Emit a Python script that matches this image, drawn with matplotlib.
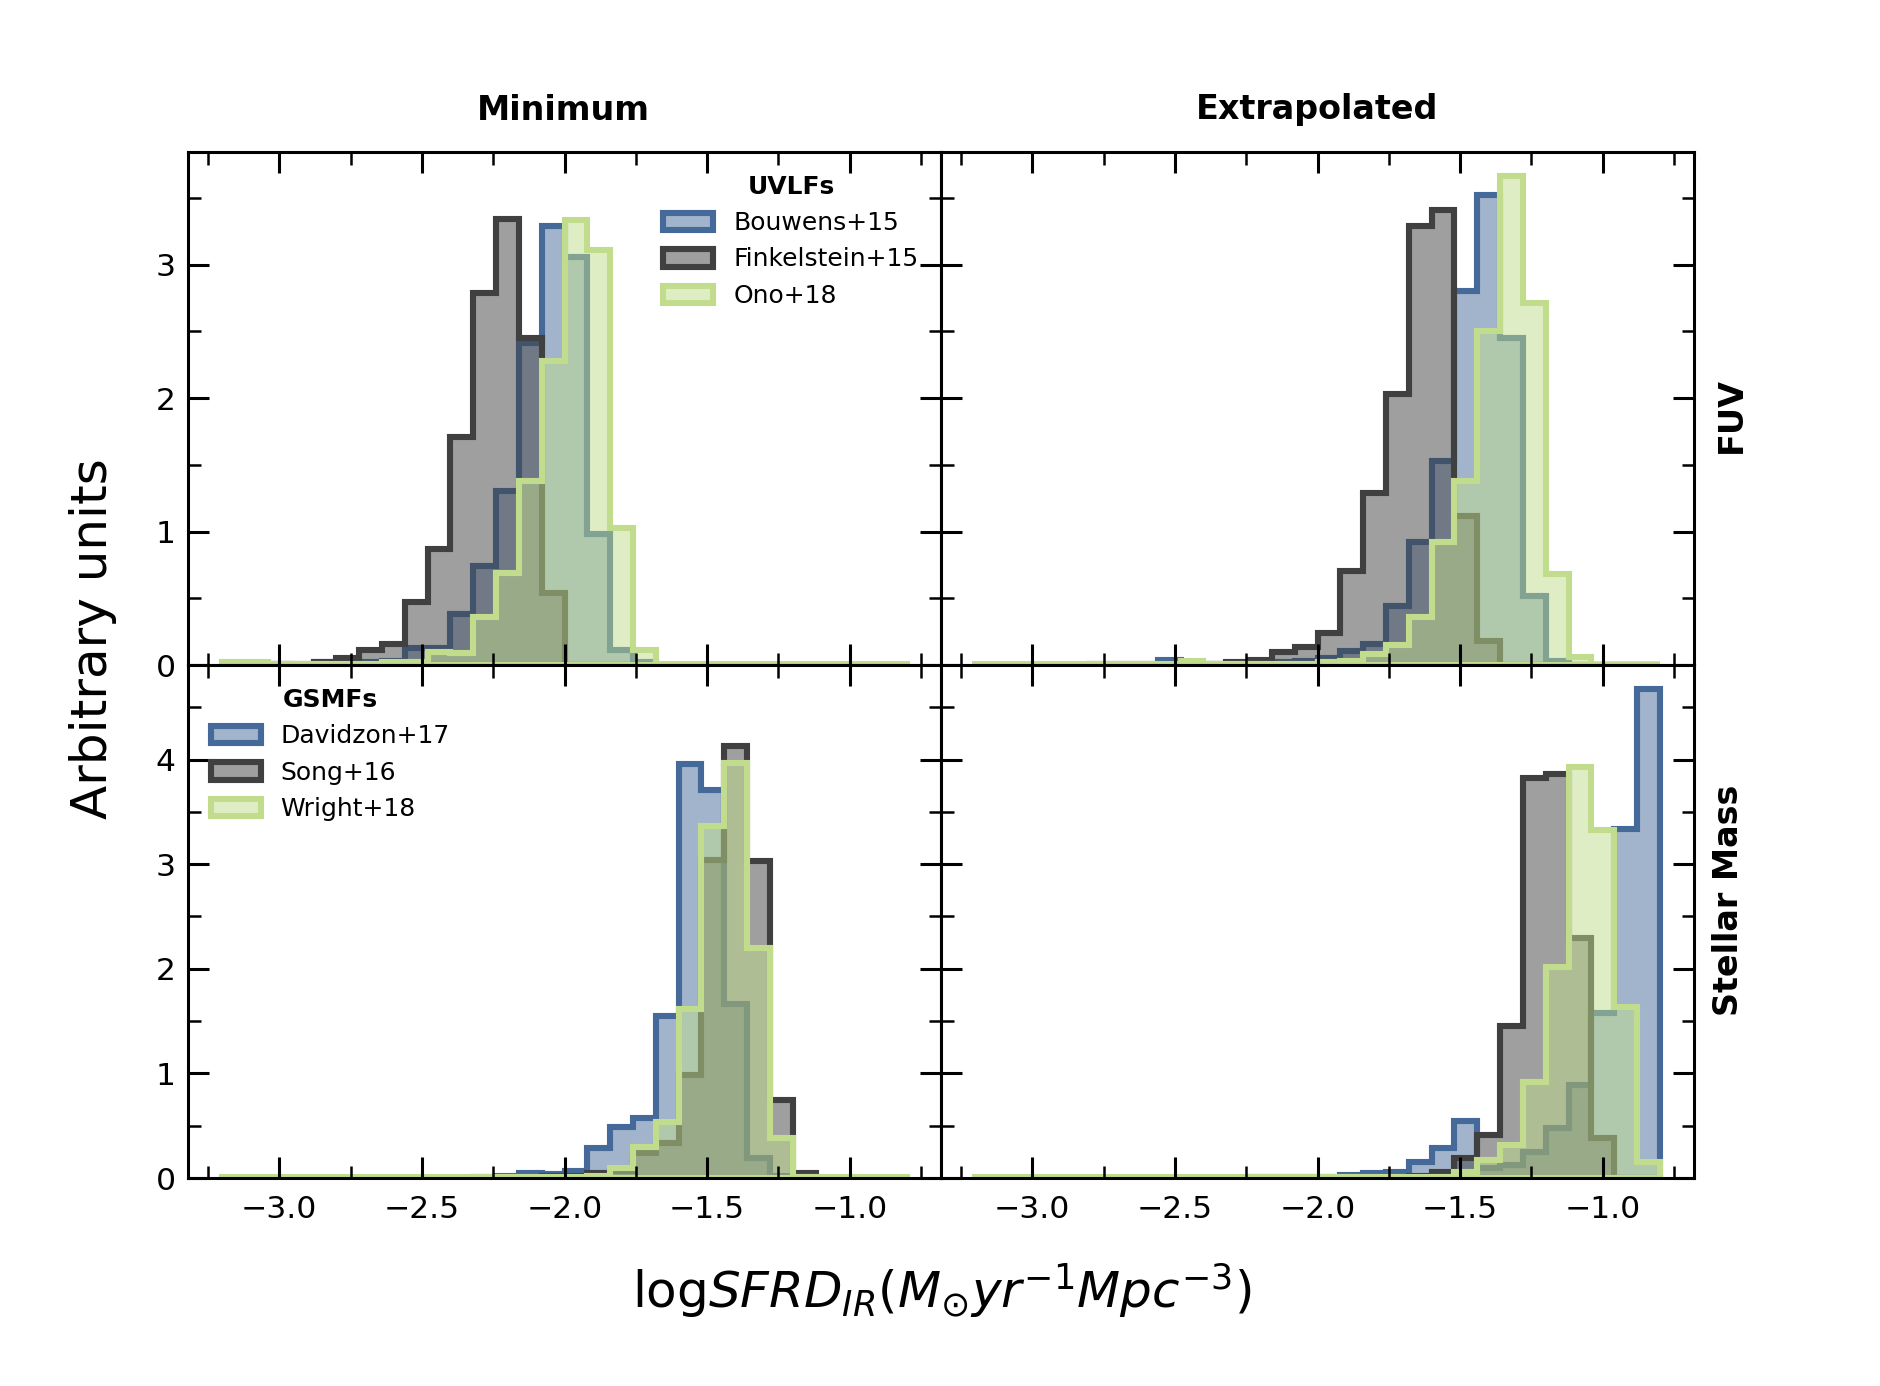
import numpy as np
import matplotlib
matplotlib.use('Agg')
import matplotlib.pyplot as plt
from matplotlib.ticker import MultipleLocator
from matplotlib.colors import to_rgba

# ---------------- data ----------------
bin_edges = np.linspace(-3.2, -0.8, 31)
bin_centers = 0.5 * (bin_edges[:-1] + bin_edges[1:])

col_titles = ['Minimum', 'Extrapolated']
row_labels = ['FUV', 'Stellar Mass']
uv_labels = ['Bouwens+15', 'Finkelstein+15', 'Ono+18']
sm_labels = ['Davidzon+17', 'Song+16', 'Wright+18']
uv_title = 'UVLFs'
sm_title = 'GSMFs'

# FUV / Minimum
bouwens_min = [0, 0, 0.01, 0, 0.02, 0, 0.02, 0.03, 0.13, 0.13,
               0.38, 0.74, 1.30, 2.41, 3.29, 3.06, 0.98, 0.11, 0.02, 0,
               0, 0, 0, 0, 0, 0, 0, 0, 0, 0]
finkelstein_min = [0, 0, 0.01, 0.01, 0.02, 0.05, 0.11, 0.155, 0.475, 0.87,
                   1.71, 2.79, 3.34, 2.45, 0.54, 0, 0, 0, 0, 0,
                   0, 0, 0, 0, 0, 0, 0, 0, 0, 0]
ono_min = [0.02, 0.02, 0.01, 0.01, 0.01, 0.01, 0.01, 0.02, 0.02, 0.10,
           0.09, 0.36, 0.69, 1.38, 2.28, 3.33, 3.11, 1.03, 0.11, 0.01,
           0.01, 0.01, 0.01, 0.01, 0.01, 0.01, 0.01, 0.01, 0.01, 0.01]

# FUV / Extrapolated
bouwens_ext = [0, 0, 0, 0, 0, 0, 0, 0, 0.04, 0.01,
               0.01, 0.01, 0.01, 0.02, 0.03, 0.05, 0.107, 0.157, 0.444, 0.918,
               1.53, 2.80, 3.52, 2.45, 0.52, 0.03, 0, 0, 0, 0]
finkelstein_ext = [0, 0, 0, 0, 0, 0.01, 0.01, 0.01, 0.01, 0.01,
                   0.01, 0.02, 0.04, 0.095, 0.132, 0.239, 0.705, 1.29, 2.03, 3.286,
                   3.41, 1.117, 0.18, 0, 0, 0, 0, 0, 0, 0]
ono_ext = [0.01, 0.01, 0.01, 0.01, 0.01, 0.01, 0.01, 0.01, 0.01, 0.03,
           0.01, 0.01, 0.01, 0.01, 0.01, 0.02, 0.03, 0.08, 0.15, 0.357,
           0.918, 1.378, 2.50, 3.66, 2.71, 0.68, 0.057, 0, 0, 0]

# Stellar Mass / Minimum
davidzon_min = [0, 0, 0, 0, 0, 0, 0, 0, 0, 0,
                0, 0.01, 0.02, 0.05, 0.04, 0.07, 0.29, 0.49, 0.57, 1.55,
                3.96, 3.71, 1.66, 0.19, 0.02, 0, 0, 0, 0, 0]
song_min = [0, 0, 0, 0, 0, 0, 0, 0, 0, 0,
            0, 0, 0, 0.01, 0.02, 0.02, 0.05, 0.07, 0.236, 0.33,
            0.986, 3.04, 4.13, 3.03, 0.746, 0.05, 0, 0, 0, 0]
wright_min = [0.01, 0.01, 0.01, 0.01, 0.01, 0.01, 0.01, 0.01, 0.01, 0.01,
              0.01, 0.01, 0.01, 0.01, 0.01, 0.01, 0.02, 0.10, 0.30, 0.54,
              1.62, 3.36, 3.97, 2.20, 0.38, 0.01, 0.01, 0.01, 0.01, 0.01]

# Stellar Mass / Extrapolated
davidzon_ext = [0, 0, 0, 0, 0, 0, 0, 0, 0, 0,
                0, 0, 0.01, 0.01, 0.01, 0.01, 0.03, 0.05, 0.06, 0.156,
                0.284, 0.545, 0.10, 0.124, 0.25, 0.475, 0.89, 1.58, 3.34, 4.67]
song_ext = [0, 0, 0, 0, 0, 0, 0, 0, 0, 0,
            0, 0, 0, 0, 0, 0, 0, 0, 0, 0.02,
            0.06, 0.188, 0.41, 1.455, 3.82, 3.86, 2.29, 0.38, 0, 0]
wright_ext = [0.01, 0.01, 0.01, 0.01, 0.01, 0.01, 0.01, 0.01, 0.01, 0.01,
              0.01, 0.01, 0.01, 0.01, 0.01, 0.01, 0.01, 0.01, 0.01, 0.01,
              0.01, 0.06, 0.172, 0.316, 0.916, 2.016, 3.93, 3.33, 1.63, 0.156]

panels = [
    [[bouwens_min, finkelstein_min, ono_min], [bouwens_ext, finkelstein_ext, ono_ext]],
    [[davidzon_min, song_min, wright_min], [davidzon_ext, song_ext, wright_ext]],
]
series_labels = [uv_labels, sm_labels]
edge_colors = ['#456a99', '#404040', '#c0dc8c']

# ---------------- figure ----------------
W, H = 1880, 1386
fig, axes = plt.subplots(2, 2, figsize=(W / 200, H / 200), dpi=200,
                         sharex=True, sharey='row')
fig.subplots_adjust(left=188 / W, right=1694 / W, bottom=1 - 1178 / H,
                    top=1 - 152 / H, hspace=0, wspace=0)

for r in range(2):
    for c in range(2):
        ax = axes[r, c]
        for vals, col, lab in zip(panels[r][c], edge_colors, series_labels[r]):
            ax.hist(bin_centers, bins=bin_edges, weights=vals,
                    histtype='stepfilled', facecolor=to_rgba(col, 0.5),
                    edgecolor=col, linewidth=2.2, label=lab)
        ax.xaxis.set_major_locator(MultipleLocator(0.5))
        ax.xaxis.set_minor_locator(MultipleLocator(0.25))
        ax.yaxis.set_major_locator(MultipleLocator(1))
        ax.yaxis.set_minor_locator(MultipleLocator(0.5))
        ax.tick_params(which='both', direction='in', top=True, right=True,
                       labelsize=11.3)
        ax.tick_params(axis='x', which='both', pad=6)
        ax.tick_params(axis='y', which='both', pad=4.5)
        ax.tick_params(which='major', length=7.5, width=1.1)
        ax.tick_params(which='minor', length=4.5, width=0.9)
        for sp in ax.spines.values():
            sp.set_linewidth(1.1)

leg_kw = dict(frameon=False, fontsize=9,
              title_fontproperties={'weight': 'bold', 'size': 9})
axes[0, 0].legend(title=uv_title, loc='upper right', **leg_kw)
axes[1, 0].legend(title=sm_title, loc='upper left', **leg_kw)

# column titles
fig.text(563.5 / W, 1 - 110 / H, col_titles[0], ha='center', va='center',
         fontsize=12, fontweight='bold')
fig.text(1317 / W, 1 - 110 / H, col_titles[1], ha='center', va='center',
         fontsize=12, fontweight='bold')
# row labels
fig.text(1731 / W, 1 - 415 / H, row_labels[0], rotation=90, ha='center',
         va='center', fontsize=12, fontweight='bold')
fig.text(1729 / W, 1 - 900 / H, row_labels[1], rotation=90, ha='center',
         va='center', fontsize=12, fontweight='bold')
# axis labels
fig.text(93 / W, 1 - 639 / H, 'Arbitrary units', rotation=90, ha='center',
         va='center', fontsize=18)
fig.text(942 / W, 1 - 1290 / H, r'log$SFRD_{IR}(M_{\odot}yr^{-1}Mpc^{-3})$',
         ha='center', va='center', fontsize=18)

fig.savefig('out.png', dpi=200)
